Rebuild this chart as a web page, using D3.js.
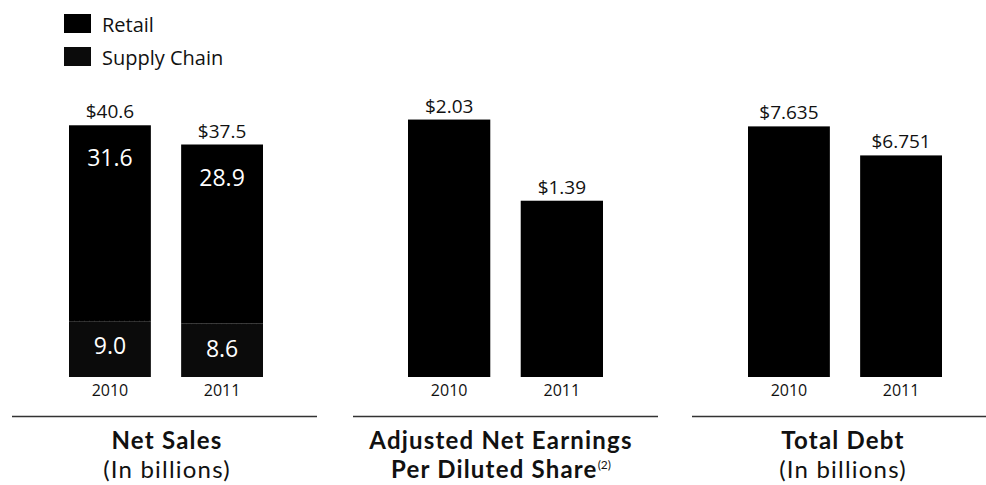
<!DOCTYPE html>
<html>
<head>
<meta charset="utf-8">
<script src="https://cdn.jsdelivr.net/npm/d3@7"></script>
<style>
  body { margin: 0; background: #fff; }
  svg { display: block; font-family: "Open Sans", sans-serif; }
</style>
</head>
<body>
<div id="chart"></div>
<script>
// data
var years = ["2010", "2011"];
var retail = [31.6, 28.9];
var supplyChain = [9.0, 8.6];
var salesTotal = [40.6, 37.5];
var eps = [2.03, 1.39];
var totalDebt = [7.635, 6.751];
var seriesNames = ["Retail", "Supply Chain"];

var W = 986, H = 485, baseY = 377;

var svg = d3.select("#chart").append("svg").attr("width", W).attr("height", H);

// legend
var legend = svg.append("g");
seriesNames.forEach(function(name, i){
    var g = legend.append("g").attr("transform", "translate(64," + (14 + i * 33) + ")");
    g.append("rect").attr("width", 27).attr("height", 19)
        .attr("fill", i === 0 ? "#000" : "#0b0b0b");
    g.append("text").attr("x", 38).attr("y", 18).attr("font-size", 20).attr("fill", "#111").text(name);
});

function panel(opts){
    var g = svg.append("g");
    var x = d3.scaleBand().domain(years).range(opts.xr).paddingInner(0.27).paddingOuter(0);
    var y = d3.scaleLinear().domain(opts.yd).range([baseY, 98]);

    // year axis, labels only
    var ax = g.append("g").attr("transform", "translate(0," + baseY + ")")
        .call(d3.axisBottom(x).tickSize(0).tickPadding(8));
    ax.select(".domain").remove();
    ax.selectAll("text").attr("font-size", 16).attr("font-family", "'Open Sans', sans-serif").attr("fill", "#111");

    opts.draw(g, x, y);

    // rule under the panel
    g.append("line").attr("x1", opts.rule[0]).attr("x2", opts.rule[1])
        .attr("y1", 416.5).attr("y2", 416.5).attr("stroke", "#333").attr("stroke-width", 1.5);

    var cx = opts.titleX;
    g.append("text").attr("x", cx).attr("y", 449).attr("text-anchor", "middle")
        .attr("font-family", "Lato, sans-serif").attr("letter-spacing", 1.2)
        .attr("font-size", 24).attr("font-weight", "bold").attr("fill", "#111").text(opts.title[0]);
    var t2 = g.append("text").attr("x", cx).attr("y", 478).attr("text-anchor", "middle")
        .attr("font-family", "Lato, sans-serif").attr("letter-spacing", 1.2)
        .attr("font-size", 24).attr("font-weight", opts.boldSub ? "bold" : "normal").attr("fill", "#111");
    t2.append("tspan").text(opts.title[1]);
    if (opts.sup) t2.append("tspan").attr("font-size", 12).attr("letter-spacing", 0)
        .attr("font-weight", "normal").attr("dy", -9).text(opts.sup);
}

// Net Sales (stacked)
panel({
    xr: [69, 263], yd: [0, 45], rule: [12, 317], titleX: 167,
    title: ["Net Sales", "(In billions)"],
    draw: function(g, x, y){
        var rows = years.map(function(yr, i){ return {year: yr, supply: supplyChain[i], retail: retail[i], total: salesTotal[i]}; });
        var stack = d3.stack().keys(["supply", "retail"])(rows);
        var fills = {supply: "#0b0b0b", retail: "#000"};
        stack.forEach(function(layer){
            g.selectAll(null).data(layer).enter().append("rect")
                .attr("x", function(d){ return x(d.data.year); })
                .attr("width", x.bandwidth())
                .attr("y", function(d){ return y(d[1]); })
                .attr("height", function(d){ return y(d[0]) - y(d[1]); })
                .attr("fill", fills[layer.key]);
            g.selectAll(null).data(layer).enter().append("text")
                .attr("x", function(d){ return x(d.data.year) + x.bandwidth() / 2; })
                .attr("y", function(d){ return y(d[1]) + (layer.key === "retail" ? 41 : 33); })
                .attr("text-anchor", "middle").attr("font-size", 23).attr("fill", "#fff")
                .text(function(d){ return d3.format(".1f")(d.data[layer.key]); });
        });
        // faint dotted seam between segments
        g.selectAll(null).data(stack[0]).enter().append("line")
            .attr("x1", function(d){ return x(d.data.year); })
            .attr("x2", function(d){ return x(d.data.year) + x.bandwidth(); })
            .attr("y1", function(d){ return y(d[1]); }).attr("y2", function(d){ return y(d[1]); })
            .attr("stroke", "#444").attr("stroke-width", 0.7).attr("stroke-dasharray", "1,4");
        g.selectAll(null).data(rows).enter().append("text")
            .attr("x", function(d){ return x(d.year) + x.bandwidth() / 2; })
            .attr("y", function(d){ return y(d.total) - 7; })
            .attr("text-anchor", "middle").attr("font-size", 19).attr("fill", "#111")
            .text(function(d){ return "$" + d3.format(".1f")(d.total); });
    }
});

function simpleBars(values, fmt){
    return function(g, x, y){
        g.selectAll(null).data(values).enter().append("rect")
            .attr("x", function(d, i){ return x(years[i]); })
            .attr("width", x.bandwidth())
            .attr("y", function(d){ return y(d); })
            .attr("height", function(d){ return baseY - y(d); })
            .attr("fill", "#000");
        g.selectAll(null).data(values).enter().append("text")
            .attr("x", function(d, i){ return x(years[i]) + x.bandwidth() / 2; })
            .attr("y", function(d){ return y(d) - 7; })
            .attr("text-anchor", "middle").attr("font-size", 19).attr("fill", "#111")
            .text(function(d){ return "$" + d3.format(fmt)(d); });
    };
}

// Adjusted EPS
panel({
    xr: [408, 603], yd: [0, 2.2], rule: [353, 658], titleX: 501,
    title: ["Adjusted Net Earnings", "Per Diluted Share"], boldSub: true, sup: "(2)",
    draw: simpleBars(eps, ".2f")
});

// Total Debt
panel({
    xr: [748, 942], yd: [0, 8.5], rule: [692, 986], titleX: 843,
    title: ["Total Debt", "(In billions)"],
    draw: simpleBars(totalDebt, ".3f")
});
</script>
</body>
</html>
